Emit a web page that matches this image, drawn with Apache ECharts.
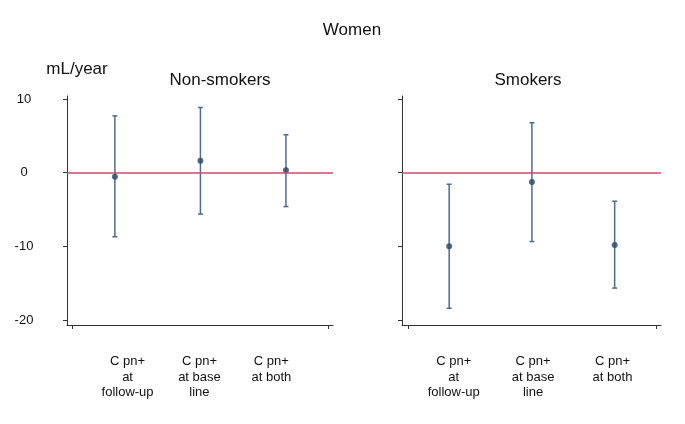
<!DOCTYPE html>
<html>
<head>
<meta charset="utf-8">
<script src="https://cdn.jsdelivr.net/npm/echarts@6/dist/echarts.min.js"></script>
<style>
html,body{margin:0;padding:0;background:#fff;}
#chart{width:685px;height:424px;}
</style>
</head>
<body>
<div id="chart"></div>
<script>
const categories = ['C pn+\nat\nfollow-up', 'C pn+\nat base\nline', 'C pn+\nat both'];
const positions = [1, 2, 3];
const yTicks = [-20, -10, 0, 10];
const nonSmokersEst = [-0.54, 1.62, 0.32];
const nonSmokersLow = [-8.7, -5.62, -4.6];
const nonSmokersHigh = [7.7, 8.84, 5.14];
const smokersEst = [-9.97, -1.26, -9.8];
const smokersLow = [-18.4, -9.35, -15.66];
const smokersHigh = [-1.57, 6.78, -3.88];

const FONT = 'Liberation Sans, Arial, sans-serif';
const BAR_COLOR = '#4a6d8f';
const PT_COLOR = '#26476a';
const RED = '#d8456c';
const AXIS_COLOR = '#333';

const chart = echarts.init(document.getElementById('chart'), null, {renderer: 'canvas'});

function errBar(lo, hi, xi, yi) {
  return {
    type: 'custom',
    xAxisIndex: xi, yAxisIndex: yi,
    z: 2,
    data: positions.map((p, i) => [p, lo[i], hi[i]]),
    renderItem: function (params, api) {
      const x = api.value(0);
      const a = api.coord([x, api.value(1)]);
      const b = api.coord([x, api.value(2)]);
      const cw = 2.5;
      const st = {stroke: BAR_COLOR, lineWidth: 1.5};
      return {type: 'group', children: [
        {type: 'line', shape: {x1: a[0], y1: a[1], x2: b[0], y2: b[1]}, style: st},
        {type: 'line', shape: {x1: a[0] - cw, y1: a[1], x2: a[0] + cw, y2: a[1]}, style: st},
        {type: 'line', shape: {x1: b[0] - cw, y1: b[1], x2: b[0] + cw, y2: b[1]}, style: st}
      ]};
    },
    markLine: {
      silent: true, symbol: ['none', 'none'], label: {show: false},
      lineStyle: {color: RED, width: 1.5, type: 'solid'},
      data: [{yAxis: 0}],
      animation: false
    }
  };
}
function points(est, xi, yi) {
  return {
    type: 'scatter', xAxisIndex: xi, yAxisIndex: yi, z: 4,
    symbolSize: 6, itemStyle: {color: PT_COLOR},
    data: positions.map((p, i) => [p, est[i]])
  };
}
function valX(gi, min, max) {
  return {
    type: 'value', gridIndex: gi, min: min, max: max,
    splitLine: {show: false},
    axisLine: {show: true, onZero: false, lineStyle: {color: AXIS_COLOR, width: 1}},
    axisTick: {show: true, length: 4, customValues: [0.5, 3.5], lineStyle: {color: AXIS_COLOR}},
    axisLabel: {show: false}
  };
}
function valY(gi, showLabels) {
  return {
    type: 'value', gridIndex: gi, min: -20.67, max: 10.4,
    splitLine: {show: false},
    axisLine: {show: true, onZero: false, lineStyle: {color: AXIS_COLOR, width: 1}},
    axisTick: {show: true, length: 4, customValues: yTicks, lineStyle: {color: AXIS_COLOR}},
    axisLabel: {show: showLabels, customValues: yTicks, align: 'center', margin: 43,
      padding: [5, 0, 0, 0],
      fontFamily: FONT, fontSize: 13, color: '#111'}
  };
}
function catX(gi) {
  return {
    type: 'category', gridIndex: gi, data: categories,
    axisLine: {show: false}, axisTick: {show: false},
    axisLabel: {interval: 0, margin: 13, fontFamily: FONT, fontSize: 13, lineHeight: 15.5, color: '#111'}
  };
}
function hidY(gi) {
  return {type: 'value', gridIndex: gi, show: false};
}

const option = {
  animation: false,
  backgroundColor: '#fff',
  grid: [
    {left: 67, top: 96, width: 266, height: 229},
    {left: 402, top: 96, width: 259, height: 229},
    {left: 91.6, top: 340, width: 215.7, height: 1},
    {left: 414, top: 340, width: 238.2, height: 1}
  ],
  xAxis: [valX(0, 0.44, 3.55), valX(1, 0.43, 3.56), catX(2), catX(3)],
  yAxis: [valY(0, true), valY(1, false), hidY(2), hidY(3)],
  graphic: [
    {type: 'text', x: 352, y: 30, style: {text: 'Women', font: '17px ' + FONT, fill: '#111', align: 'center', verticalAlign: 'middle'}},
    {type: 'text', x: 77, y: 69, style: {text: 'mL/year', font: '17px ' + FONT, fill: '#111', align: 'center', verticalAlign: 'middle'}},
    {type: 'text', x: 220, y: 80, style: {text: 'Non-smokers', font: '17px ' + FONT, fill: '#111', align: 'center', verticalAlign: 'middle'}},
    {type: 'text', x: 528, y: 80, style: {text: 'Smokers', font: '17px ' + FONT, fill: '#111', align: 'center', verticalAlign: 'middle'}}
  ],
  series: [
    errBar(nonSmokersLow, nonSmokersHigh, 0, 0),
    points(nonSmokersEst, 0, 0),
    errBar(smokersLow, smokersHigh, 1, 1),
    points(smokersEst, 1, 1)
  ]
};
chart.setOption(option);
</script>
</body>
</html>
